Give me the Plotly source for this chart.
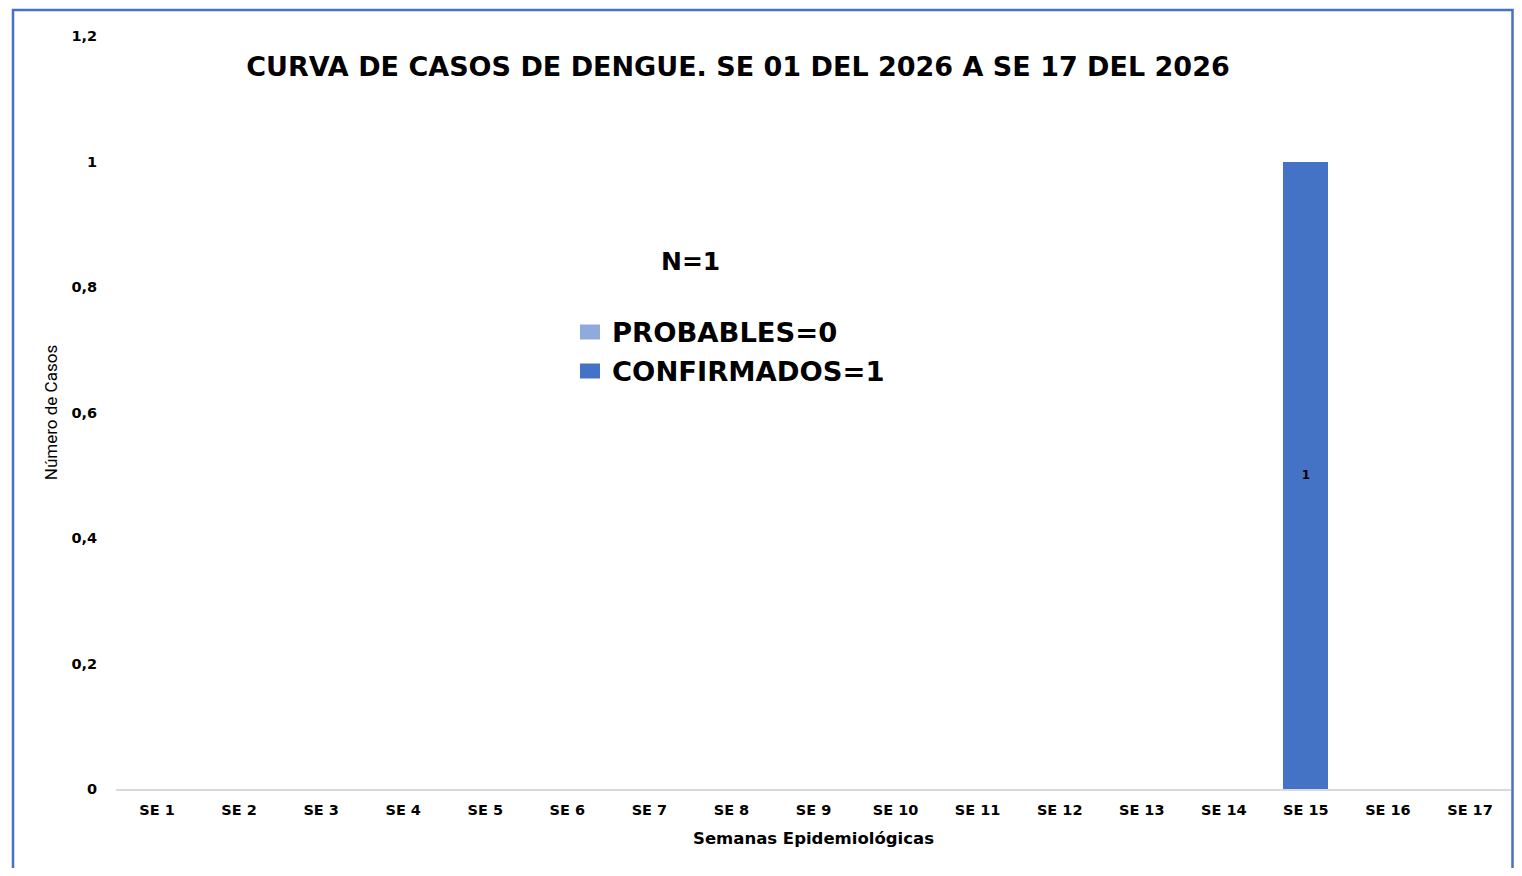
import plotly.graph_objects as go

semanas = [f"SE {i}" for i in range(1, 18)]
probables = [0] * 17
confirmados = [0, 0, 0, 0, 0, 0, 0, 0, 0, 0, 0, 0, 0, 0, 1, 0, 0]
y_ticks = [0, 0.2, 0.4, 0.6, 0.8, 1, 1.2]
y_ticklabels = ["0", "0,2", "0,4", "0,6", "0,8", "1", "1,2"]
legend_labels = [f"PROBABLES={sum(probables)}", f"CONFIRMADOS={sum(confirmados)}"]
colors = ["#8FAADC", "#4472C4"]

OFF = 8  # page body margin
W, H = 1522 - 2 * OFF, 876 - 2 * OFF
# plot area in page coordinates
PX0, PX1, PY0, PY1 = 116, 1511, 36, 789
L, R, T, B = PX0 - OFF, W - (PX1 - OFF), PY0 - OFF, H - (PY1 - OFF)
pw, ph = PX1 - PX0, PY1 - PY0

def px(x):
    return (x - PX0) / pw

def py(y):
    return (PY1 - y) / ph

FONT = "DejaVu Sans"

fig = go.Figure()
fig.add_trace(go.Bar(
    x=semanas, y=probables, name=legend_labels[0], showlegend=False,
    marker=dict(color=colors[0], line=dict(width=0)),
))
fig.add_trace(go.Bar(
    x=semanas, y=confirmados, name=legend_labels[1], showlegend=False,
    marker=dict(color=colors[1], line=dict(width=0)),
    text=[str(v) if v else "" for v in confirmados],
    textposition="inside", insidetextanchor="middle",
    textfont=dict(family=FONT, size=12, color="black", weight="bold"),
    textangle=0,
))

fig.update_layout(
    width=W, height=H,
    margin=dict(l=L, r=R, t=T, b=B, autoexpand=False),
    paper_bgcolor="white", plot_bgcolor="white",
    barmode="stack", bargap=0.45,
    font=dict(family=FONT, color="#000000"),
    title=dict(
        text="<b>CURVA DE CASOS DE DENGUE. SE 01 DEL 2026 A SE 17 DEL 2026</b>",
        x=px(738), xref="paper", xanchor="center",
        y=1 - (67 - OFF) / H, yref="container", yanchor="middle",
        font=dict(family=FONT, size=27, color="black"),
    ),
    xaxis=dict(
        showgrid=False, showline=True, linecolor="#D9D9D9", linewidth=1.5,
        ticks="outside", ticklen=7, tickcolor="rgba(0,0,0,0)",
        tickfont=dict(family=FONT, size=14.5, color="black", weight="bold"),
        title=dict(text="<b>Semanas Epidemiológicas</b>",
                   font=dict(family=FONT, size=16.5, color="black"),
                   standoff=15),
        fixedrange=True,
    ),
    yaxis=dict(
        range=[0, 1.2], showgrid=False, showline=False, zeroline=False,
        tickmode="array", tickvals=y_ticks, ticktext=y_ticklabels,
        ticks="outside", ticklen=15, tickcolor="rgba(0,0,0,0)",
        tickfont=dict(family=FONT, size=14.5, color="black", weight="bold"),
        title=dict(text="Número de Casos",
                   font=dict(family="Liberation Sans Narrow, Roboto", size=17, color="black"),
                   standoff=9),
        fixedrange=True,
    ),
    showlegend=False,
)

fig.add_annotation(
    text="<b>N=1</b>", x=px(690), y=py(262), xref="paper", yref="paper",
    showarrow=False, font=dict(family=FONT, size=25, color="black"),
    xanchor="center", yanchor="middle",
)

# legend drawn as squares + labels
for i, (lab, col) in enumerate(zip(legend_labels, colors)):
    yc = 332 + i * 39
    fig.add_shape(type="rect", xref="paper", yref="paper",
                  x0=px(580), x1=px(600), y0=py(yc + 7.5), y1=py(yc - 7.5),
                  fillcolor=col, line=dict(width=0))
    fig.add_annotation(
        text=f"<b>{lab}</b>", x=px(610), y=py(yc), xref="paper", yref="paper",
        showarrow=False, font=dict(family=FONT, size=27.4, color="black"),
        xanchor="left", yanchor="middle",
    )

fig.add_shape(
    type="rect", xref="paper", yref="paper",
    x0=px(13), x1=px(1512.5), y0=py(900), y1=py(10),
    line=dict(color="#4472C4", width=2.5), fillcolor="rgba(0,0,0,0)", layer="below",
)

fig.write_html("out.html", config={"displayModeBar": False})
